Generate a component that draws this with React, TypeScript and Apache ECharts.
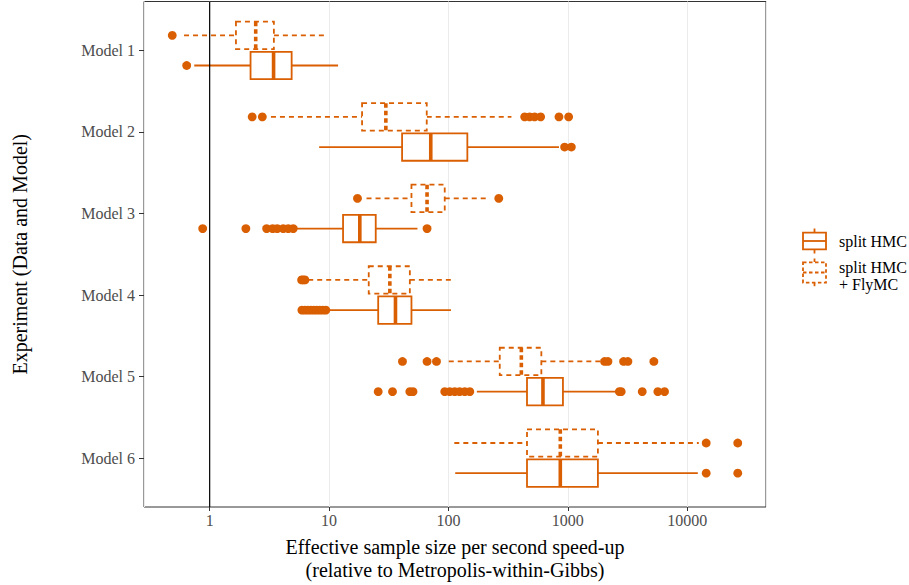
import React, { useEffect, useRef } from "react";
import * as echarts from "echarts";

// ---------- data ----------
const models = ["Model 1", "Model 2", "Model 3", "Model 4", "Model 5", "Model 6"];
const modelIndex = [1, 2, 3, 4, 5, 6];
const xTickValues = [1, 10, 100, 1000, 10000];

// box statistics per model: [lower whisker, Q1, median, Q3, upper whisker]
const splitHMCStats = [
  [0.743, 2.2, 3.43, 4.86, 11.9],
  [8.26, 40.9, 71.1, 144, 843],
  [5.27, 13.1, 18.1, 24.6, 55.0],
  [10.0, 25.8, 36.0, 49.0, 105],
  [173, 455, 619, 910, 2547],
  [114, 455, 865, 1786, 12270],
];
const flyMCStats = [
  [0.61, 1.66, 2.43, 3.45, 9.35],
  [3.26, 18.9, 29.9, 65.8, 337],
  [20.6, 49.0, 66.2, 93.1, 222],
  [6.69, 21.5, 32.3, 47.5, 109],
  [100.6, 269, 408, 600, 1967],
  [112, 455, 865, 1786, 12500],
];

// outliers per model
const splitHMCOutliers = [
  [0.642],
  [940, 1070],
  [0.874, 2.01, 3.0, 3.37, 3.68, 4.13, 4.55, 5.01, 66.2],
  [5.92, 6.27, 6.65, 7.04, 7.46, 7.9, 8.37, 8.87, 9.4],
  [25.8, 34.0, 47.5, 50.5, 93.1, 102.6, 113, 124, 137, 151, 2700, 2800, 4200, 5675, 6457],
  [14420, 26500],
];
const flyMCOutliers = [
  [0.486],
  [2.27, 2.76, 435, 479, 527, 592, 843, 1016],
  [17.3, 264],
  [5.89, 6.07, 6.28],
  [41.2, 66.2, 79.4, 2032, 2167, 2931, 3185, 5255],
  [14420, 26500],
];

const referenceLine = [1];

// ---------- styling ----------
const ORANGE = "#D95F02";
const FONT = "Liberation Serif";
const BOX_HALF = 0.168;
const OFFSET_FLY = -0.185;
const OFFSET_SPLIT = 0.185;

function boxData(stats: number[][]) {
  return stats.map((s, i) => [modelIndex[i], ...s]);
}
function outlierData(out: number[][]) {
  const res: number[][] = [];
  out.forEach((arr, i) => arr.forEach((v) => res.push([modelIndex[i], v])));
  return res;
}

function boxRender(offset: number, dashed: boolean) {
  return (params: any, api: any) => {
    const m = api.value(0);
    const lw = api.value(1);
    const q1 = api.value(2);
    const med = api.value(3);
    const q3 = api.value(4);
    const uw = api.value(5);
    const yc = m + offset;
    const pLw = api.coord([lw, yc]);
    const pQ1 = api.coord([q1, yc]);
    const pMed = api.coord([med, yc]);
    const pQ3 = api.coord([q3, yc]);
    const pUw = api.coord([uw, yc]);
    const yA = api.coord([med, yc - BOX_HALF])[1];
    const yB = api.coord([med, yc + BOX_HALF])[1];
    const top = Math.min(yA, yB);
    const bottom = Math.max(yA, yB);
    const dash = dashed ? [5, 4] : null;
    const base = { stroke: ORANGE, lineWidth: 1.8, lineDash: dash, fill: null };
    return {
      type: "group",
      children: [
        { type: "line", shape: { x1: pLw[0], y1: pLw[1], x2: pQ1[0], y2: pQ1[1] }, style: { ...base } },
        { type: "line", shape: { x1: pQ3[0], y1: pQ3[1], x2: pUw[0], y2: pUw[1] }, style: { ...base } },
        {
          type: "rect",
          shape: { x: pQ1[0], y: top, width: pQ3[0] - pQ1[0], height: bottom - top },
          style: { ...base, fill: "#ffffff" },
        },
        {
          type: "line",
          shape: { x1: pMed[0], y1: top, x2: pMed[0], y2: bottom },
          style: { stroke: ORANGE, lineWidth: 3.6, lineDash: dashed ? [4.5, 3] : null },
        },
      ],
    };
  };
}

function outlierRender(offset: number) {
  return (params: any, api: any) => {
    const m = api.value(0);
    const v = api.value(1);
    const p = api.coord([v, m + offset]);
    return { type: "circle", shape: { cx: p[0], cy: p[1], r: 4.4 }, style: { fill: ORANGE } };
  };
}

function legendGraphics() {
  const s = { stroke: ORANGE, lineWidth: 1.8, fill: "#ffffff" };
  const d = { stroke: ORANGE, lineWidth: 1.8, fill: "#ffffff", lineDash: [3.5, 2.5] };
  const cx = 814.5;
  return [
    { type: "line", shape: { x1: cx, y1: 228.5, x2: cx, y2: 232.7 }, style: { ...s } },
    { type: "line", shape: { x1: cx, y1: 249.3, x2: cx, y2: 253.5 }, style: { ...s } },
    { type: "rect", shape: { x: 803, y: 232.7, width: 23, height: 16.6 }, style: { ...s } },
    { type: "line", shape: { x1: 803, y1: 241, x2: 826, y2: 241 }, style: { ...s } },
    { type: "line", shape: { x1: cx, y1: 258.5, x2: cx, y2: 262.3 }, style: { ...d } },
    { type: "line", shape: { x1: cx, y1: 282.7, x2: cx, y2: 288.5 }, style: { ...d } },
    { type: "rect", shape: { x: 803, y: 262.3, width: 23, height: 20.4 }, style: { ...d } },
    { type: "line", shape: { x1: 803, y1: 272.5, x2: 826, y2: 272.5 }, style: { ...d } },
    {
      type: "text",
      x: 839,
      y: 241,
      style: { text: "split HMC", font: `16px "${FONT}"`, fill: "#000", textAlign: "left", textVerticalAlign: "middle" },
    },
    {
      type: "text",
      x: 839,
      y: 276,
      style: {
        text: "split HMC\n+ FlyMC",
        font: `16px "${FONT}"`,
        lineHeight: 17,
        fill: "#000",
        textAlign: "left",
        textVerticalAlign: "middle",
      },
    },
  ];
}

export default function App() {
  const ref = useRef<HTMLDivElement | null>(null);
  useEffect(() => {
    if (!ref.current) return;
    const chart = echarts.init(ref.current, null, { renderer: "svg" });
    const option: any = {
      animation: false,
      backgroundColor: "#ffffff",
      textStyle: { fontFamily: FONT },
      grid: {
        left: 144,
        right: 143,
        top: 1.5,
        bottom: 78,
        outerBoundsMode: "none",
        containLabel: false,
        show: true,
        borderColor: "#333333",
        borderWidth: 1,
        backgroundColor: "transparent",
      },
      xAxis: {
        type: "log",
        logBase: 10,
        min: 0.2818,
        max: 45700,
        name: "Effective sample size per second speed-up\n(relative to Metropolis-within-Gibbs)",
        nameLocation: "middle",
        nameGap: 28,
        nameTextStyle: { fontFamily: FONT, fontSize: 20, color: "#000", lineHeight: 23.5 },
        axisLine: { show: false },
        axisTick: { show: true, length: 4, lineStyle: { color: "#333333" } },
        axisLabel: {
          show: true,
          showMinLabel: false,
          showMaxLabel: false,
          margin: 5.5,
          fontFamily: FONT,
          fontSize: 16,
          color: "#4D4D4D",
          formatter: (v: number) => {
            const r = xTickValues.find((t) => Math.abs(t - v) / t < 1e-6);
            return r !== undefined ? String(r) : "";
          },
        },
        splitLine: { show: true, lineStyle: { color: "#EBEBEB", width: 1 } },
      },
      yAxis: {
        type: "value",
        min: 0.4,
        max: 6.6,
        inverse: true,
        name: "Experiment (Data and Model)",
        nameLocation: "middle",
        nameGap: 114,
        nameTextStyle: { fontFamily: FONT, fontSize: 20, color: "#000" },
        axisLine: { show: false },
        axisTick: { show: true, length: 5, customValues: modelIndex, lineStyle: { color: "#333333" } },
        axisLabel: {
          show: true,
          customValues: modelIndex,
          margin: 9,
          fontFamily: FONT,
          fontSize: 16,
          color: "#4D4D4D",
          formatter: (v: number) => models[Math.round(v) - 1] ?? "",
        },
        splitLine: { show: false },
      },
      series: [
        {
          type: "custom",
          name: "split HMC + FlyMC",
          renderItem: boxRender(OFFSET_FLY, true),
          data: boxData(flyMCStats),
          encode: { x: [1, 2, 3, 4, 5], y: 0 },
          z: 2,
        },
        {
          type: "custom",
          name: "split HMC",
          renderItem: boxRender(OFFSET_SPLIT, false),
          data: boxData(splitHMCStats),
          encode: { x: [1, 2, 3, 4, 5], y: 0 },
          z: 2,
        },
        {
          type: "custom",
          name: "FlyMC outliers",
          renderItem: outlierRender(OFFSET_FLY),
          data: outlierData(flyMCOutliers),
          encode: { x: 1, y: 0 },
          z: 3,
        },
        {
          type: "custom",
          name: "split outliers",
          renderItem: outlierRender(OFFSET_SPLIT),
          data: outlierData(splitHMCOutliers),
          encode: { x: 1, y: 0 },
          z: 3,
        },
        {
          type: "line",
          name: "reference",
          data: [
            [referenceLine[0], 0.4],
            [referenceLine[0], 6.6],
          ],
          symbol: "none",
          lineStyle: { color: "#000000", width: 1.2 },
          silent: true,
          z: 4,
        },
      ],
      graphic: legendGraphics(),
    };
    chart.setOption(option);
    return () => chart.dispose();
  }, []);
  return (
    <div
      ref={ref}
      style={{ position: "fixed", left: 0, top: 0, width: 909, height: 585, background: "#fff" }}
    />
  );
}
